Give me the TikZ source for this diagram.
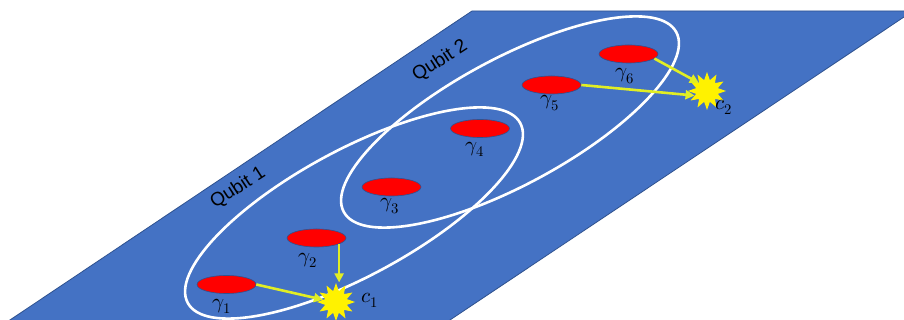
\documentclass[tikz,border=0pt]{standalone}
\usepackage{fontspec}
\usepackage{unicode-math}
\setmathfont{Latin Modern Math}
\setsansfont{Liberation Sans}
\usetikzlibrary{shapes.geometric,arrows.meta}
\definecolor{plane}{RGB}{68,114,196}
\definecolor{planeedge}{RGB}{47,82,143}
\definecolor{arr}{RGB}{225,238,36}
\begin{document}
\begin{tikzpicture}[x=1pt,y=1pt,
  dot/.style={ellipse, fill=red, draw=planeedge, line width=0.6pt, minimum width=59pt, minimum height=18pt, inner sep=0pt},
  glab/.style={font=\fontsize{21}{24}\selectfont, text=black, inner sep=0pt},
  burst/.style={star, star points=12, star point ratio=1.7, fill=yellow, minimum size=38pt, inner sep=0pt},
  qarrow/.style={draw=arr, line width=2.6pt, -{Triangle[length=9pt,width=9pt]}},
  qubit/.style={ellipse, draw=white, line width=2.6pt, inner sep=0pt, minimum width=378pt, minimum height=126pt, rotate=28.4},
  qlab/.style={font=\sffamily\fontsize{19}{22}\selectfont, rotate=33, inner sep=0pt}]
\useasboundingbox (0,0) rectangle (904,320);
\begin{scope}
\clip (0,0) rectangle (904,320);
\fill[plane, draw=planeedge, line width=0.8pt] (472,309) -- (913,309) -- (435,-10) -- (-5,-10) -- cycle;
\end{scope}
% qubit ellipses
\node[qubit] (q1) at (354,107) {};
\node[qubit] (q2) at (510,198) {};
% qubit labels
\node[qlab] (t1) at (238,132) {Qubit 1};
\node[qlab] (t2) at (440,259) {Qubit 2};
% Majorana dots
\node[dot] (g1) at (226.5,35.5) {};
\node[dot] (g2) at (316.5,82) {};
\node[dot] (g3) at (391.5,133) {};
\node[dot] (g4) at (480,191.5) {};
\node[dot] (g5) at (551.5,235) {};
\node[dot] (g6) at (628.5,266) {};
\node[glab] (l1) at (222,14) {$\gamma_1$};
\node[glab] (l2) at (308,60) {$\gamma_2$};
\node[glab] (l3) at (390,114) {$\gamma_3$};
\node[glab] (l4) at (475,171) {$\gamma_4$};
\node[glab] (l5) at (550,217) {$\gamma_5$};
\node[glab] (l6) at (625,244) {$\gamma_6$};
% bursts
\node[burst] (s1) at (336,18) {};
\node[burst] (s2) at (707,229) {};
\node[glab] (c1) at (370,20) {$c_1$};
\node[glab] (c2) at (724,213) {$c_2$};
% arrows
\draw[qarrow] (g1.east) -- (s1.170);
\draw[qarrow] (g2.-15) -- (g2.-15 |- s1.north);
\draw[qarrow] (g5.east) -- (s2.200);
\draw[qarrow] (g6.-10) -- (s2.135);
\end{tikzpicture}
\end{document}
